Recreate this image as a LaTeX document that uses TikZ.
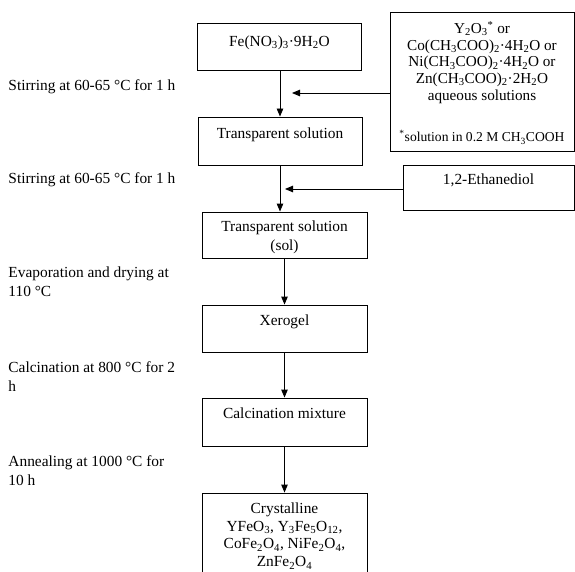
\documentclass[tikz,border=0pt]{standalone}
\usepackage{fontspec}
\setmainfont{Liberation Serif}
\usetikzlibrary{arrows.meta}
\newcommand{\sbs}[1]{\textsubscript{#1}}
\begin{document}
\begin{tikzpicture}[x=1pt,y=-1pt,line width=0.9pt,
  box/.style={draw,rectangle,inner sep=0pt},
  txt/.style={inner sep=0pt,align=center,anchor=north,font=\fontsize{15.4}{18.5}\selectfont},
  stxt/.style={inner sep=0pt,align=center,anchor=north,font=\fontsize{15.2}{16.6}\selectfont},
  ntxt/.style={inner sep=0pt,align=center,anchor=north,font=\fontsize{13.6}{15}\selectfont},
  ltxt/.style={inner sep=0pt,align=left,anchor=north west,font=\fontsize{15.4}{18.5}\selectfont},
  arr/.style={-{Triangle[length=8pt,width=6.5pt]}}]
\clip (0,0) rectangle (575,572);
% main column boxes
\node[box,minimum width=164pt,minimum height=47pt] (fe) at (279.5,46.5) {};
\node[box,minimum width=164pt,minimum height=48pt] (ts1) at (280,141) {};
\node[box,minimum width=165pt,minimum height=46pt] (ts2) at (284.5,235) {};
\node[box,minimum width=165pt,minimum height=47pt] (xer) at (284.5,328.5) {};
\node[box,minimum width=165pt,minimum height=48pt] (cal) at (284.5,422) {};
\node[box,minimum width=165pt,minimum height=107pt] (cry) at (284.5,546.5) {};
% right boxes
\node[box,minimum width=184pt,minimum height=139pt] (r1) at (482,81.5) {};
\node[box,minimum width=171pt,minimum height=45pt] (r2) at (488.5,187.5) {};
% box texts
\node[txt] (tfe) at (279.5,35.5) {Fe(NO\sbs{3})\sbs{3}·9H\sbs{2}O};
\node[txt] (tts1) at (280,127.5) {Transparent solution};
\node[txt] (tts2) at (284.5,220.5) {Transparent solution\\(sol)};
\node[txt] (txer) at (284.5,314.5) {Xerogel};
\node[txt] (tcal) at (284.5,407.5) {Calcination mixture};
\node[txt,font=\fontsize{15.4}{17.9}\selectfont] (tcry) at (284.5,502) {Crystalline\\YFeO\sbs{3}, Y\sbs{3}Fe\sbs{5}O\sbs{12},\\CoFe\sbs{2}O\sbs{4}, NiFe\sbs{2}O\sbs{4},\\ZnFe\sbs{2}O\sbs{4}};
\node[stxt] (tr1) at (482,21) {Y\sbs{2}O\sbs{3}\textsuperscript{*} or\\Co(CH\sbs{3}COO)\sbs{2}·4H\sbs{2}O or\\Ni(CH\sbs{3}COO)\sbs{2}·4H\sbs{2}O or\\Zn(CH\sbs{3}COO)\sbs{2}·2H\sbs{2}O\\aqueous solutions};
\node[ntxt] (tr1b) at (482,130) {\textsuperscript{*}solution in 0.2 M CH\sbs{3}COOH};
\node[txt] (tr2) at (488.5,173.5) {1,2-Ethanediol};
% left texts
\node[ltxt] (l1) at (8,79.5) {Stirring at 60-65 °C for 1 h};
\node[ltxt] (l2) at (8,172.5) {Stirring at 60-65 °C for 1 h};
\node[ltxt] (l3) at (8,266.5) {Evaporation and drying at\\110 °C};
\node[ltxt] (l4) at (8,361.5) {Calcination at 800 °C for 2\\h};
\node[ltxt] (l5) at (8,455.5) {Annealing at 1000 °C for\\10 h};
% connectors
\draw[arr] (fe.south -| ts1.north) -- (ts1.north);
\draw[arr] (ts1.south) -- (ts1.south |- ts2.north);
\draw[arr] (ts2.south) -- (xer.north);
\draw[arr] (xer.south) -- (cal.north);
\draw[arr] (cal.south) -- (cry.north);
\coordinate (t1) at (292,93);
\coordinate (t2) at (285,189);
\draw[arr] (r1.west |- t1) -- (t1);
\draw[arr] (r2.west |- t2) -- (t2);
\end{tikzpicture}
\end{document}
